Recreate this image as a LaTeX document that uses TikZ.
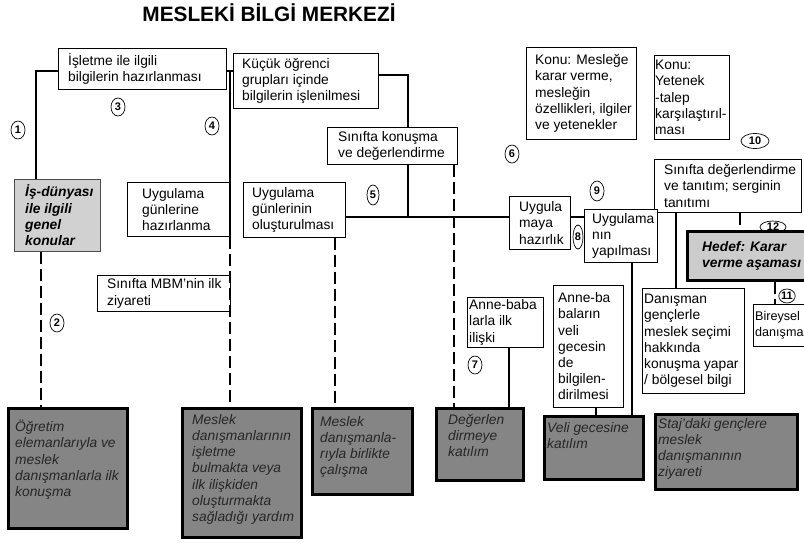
\documentclass[tikz,border=0pt]{standalone}
\usepackage{fontspec}
\setmainfont{Liberation Sans}
\usetikzlibrary{calc,shapes.geometric}
\newcommand\bxfont{\fontsize{13.8}{16.2}\selectfont}
\newcommand\mkcbox[8]{%
 \node[#1,minimum width=#5,minimum height=#6,anchor=north west] (#2) at (#3,#4) {};
 \node[#1t,anchor=west] (#2t) at ([xshift=#7]#2.west) {#8};}
\newcommand\mktbox[9]{%
 \node[#1,minimum width=#5,minimum height=#6,anchor=north west] (#2) at (#3,#4) {};
 \node[#1t,anchor=north west] (#2t) at ([xshift=#7,yshift=-#8]#2.north west) {#9};}
\tikzset{
 wbox/.style={draw, line width=0.9pt, fill=white, inner sep=0},
 wboxt/.style={inner sep=0, align=left, font=\bxfont},
 sbox/.style={wbox},
 sboxt/.style={inner sep=0, align=left, font=\fontsize{12.6}{16.2}\selectfont},
 gbox/.style={draw=black!70, line width=0.9pt, fill=black!18, inner sep=0},
 gboxt/.style={inner sep=0, align=left, font=\bxfont\bfseries\itshape},
 hbox/.style={draw, line width=2.6pt, fill=black!20, inner sep=0},
 hboxt/.style={inner sep=0, align=left, font=\bxfont\bfseries\itshape},
 dbox/.style={draw, line width=3.2pt, fill=black!48, inner sep=0},
 dboxt/.style={inner sep=0, align=left, font=\bxfont\itshape, text=black!85},
 conn/.style={line width=2.6pt},
 dconn/.style={line width=2.6pt, dash pattern=on 12pt off 5pt},
 num/.style={draw, ellipse, line width=0.7pt, inner sep=0, minimum width=14, minimum height=18, font=\fontsize{11}{11}\selectfont\bfseries}
}
\begin{document}
\begin{tikzpicture}[x=1pt,y=-1pt]
\useasboundingbox (0,0) rectangle (804,543);
\node[font=\fontsize{20.8}{20.8}\selectfont\bfseries, anchor=base] (title) at (269,22) {MESLEKİ BİLGİ MERKEZİ};
\node[num, minimum width=26, minimum height=12] (n12) at (773,227) {12};
% white boxes
\mkcbox{wbox}{A}{58}{48}{168}{41}{10}{İşletme ile ilgili\\bilgilerin hazırlanması}
\mkcbox{wbox}{B}{233}{53}{145}{55}{9}{Küçük öğrenci\\grupları içinde\\bilgilerin işlenilmesi}
\mkcbox{wbox}{C}{327}{127}{130}{37}{11}{Sınıfta konuşma\\ve değerlendirme}
\mkcbox{wbox}{D}{243}{182}{102}{55}{9}{Uygulama\\günlerinin\\oluşturulması}
\mkcbox{wbox}{E}{127}{182}{103}{54}{15}{Uygulama\\günlerine\\hazırlanma}
\mkcbox{wbox}{F}{97}{275}{133}{36}{10}{Sınıfta MBM'nin ilk\\ziyareti}
\mkcbox{gbox}{G}{14}{179}{86}{72}{11}{İş-dünyası\\ile ilgili\\genel\\konular}
\mkcbox{wbox}{K1}{526}{47}{110}{92}{9}{Konu: Mesleğe\\karar verme,\\mesleğin\\özellikleri, ilgiler\\ve yetenekler}
\mkcbox{wbox}{K2}{654}{55}{75}{84}{1}{Konu:\\Yetenek\\-talep\\karşılaştırıl-\\ması}
\mkcbox{wbox}{S}{654}{159}{147}{53}{10}{Sınıfta değerlendirme\\ve tanıtım; serginin\\tanıtımı}
\mkcbox{wbox}{UM}{509}{196}{61}{53}{10}{Uygula\\maya\\hazırlık}
\mkcbox{wbox}{UY}{584}{209}{73}{53}{8}{Uygulama\\nın\\yapılması}
\mkcbox{hbox}{HD}{686}{230}{126}{49}{16}{Hedef: Karar\\verme aşaması}
\mkcbox{sbox}{BI}{753}{304}{70}{42}{2}{Bireysel\\danışma}
\mkcbox{wbox}{AB1}{467}{297}{76}{50}{2}{Anne-baba\\larla ilk\\ilişki}
\mkcbox{wbox}{AB2}{553}{285}{70}{122}{5}{Anne-ba\\baların\\veli\\gecesin\\de\\bilgilen-\\dirilmesi}
\mkcbox{wbox}{DN}{642}{288}{102}{105}{2}{Danışman\\gençlerle\\meslek seçimi\\hakkında\\konuşma yapar\\/ bölgesel bilgi}
% dark boxes
\mktbox{dbox}{H}{7}{407}{119}{120}{8}{13}{Öğretim\\elemanlarıyla ve\\meslek\\danışmanlarla ilk\\konuşma}
\mktbox{dbox}{I}{181}{407}{119}{129}{11}{7}{Meslek\\danışmanlarının\\işletme\\bulmakta veya\\ilk ilişkiden\\oluşturmakta\\sağladığı yardım}
\mktbox{dbox}{J}{311}{407}{100}{86}{9}{9}{Meslek\\danışmanla-\\rıyla birlikte\\çalışma}
\mktbox{dbox}{DG}{435}{407}{87}{72}{13}{7}{Değerlen\\dirmeye\\katılım}
\mktbox{dbox}{VG}{543}{415}{99}{63}{4}{7}{Veli gecesine\\katılım}
\mktbox{dbox}{ST}{654}{413}{142}{75}{4}{5}{Staj'daki gençlere\\meslek\\danışmanının\\ziyareti}
% connectors
\coordinate (p1) at (36,71);
\draw[conn] (p1 -| A.west) -- (p1) -- (p1 |- G.north);
\coordinate (p1b) at (41,0);
\draw[dconn] (p1b |- G.south) -- (p1b |- H.north);
\coordinate (p2) at (230,71);
\draw[conn] (p2 -| A.east) -- (p2 -| B.west);
\draw[conn] (p2) -- (p2 |- E.south);
\draw[dconn] (p2 |- E.south) -- (p2 |- I.north);
\coordinate (p3) at (408,75);
\draw[conn] (p3 -| B.east) -- (p3) -- (p3 |- C.north);
\coordinate (p4) at (408,217);
\draw[conn] (p4 |- C.south) -- (p4);
\draw[conn] (p4 -| D.east) -- (p4 -| UM.west);
\draw[conn] (p4 -| UM.east) -- (p4 -| UY.west);
\coordinate (p5) at (454,0);
\draw[dconn] (p5 |- C.south) -- (p5 |- DG.north);
\coordinate (p6) at (335,0);
\draw[dconn] (p6 |- D.south) -- (p6 |- J.north);
\coordinate (p7) at (509,0);
\draw[conn] (p7 |- AB1.south) -- (p7 |- DG.north);
\coordinate (p8) at (596,0);
\draw[conn] (p8 |- AB2.south) -- (p8 |- VG.north);
\coordinate (p9) at (632,0);
\draw[conn] (p9 |- UY.south) -- (p9 |- VG.north);
\coordinate (p10) at (676,0);
\draw[conn] (p10 |- S.south) -- (p10 |- DN.north);
\coordinate (p11) at (740,0);
\draw[dconn] (p11 |- S.south) -- (p11 |- HD.north);
\coordinate (p12) at (775,0);
\draw[dconn] (p12 |- HD.south) -- (p12 |- BI.north);
% numbers
\node[num] (n1) at (18,130) {1};
\node[num] (n2) at (57,323) {2};
\node[num] (n3) at (118,107) {3};
\node[num] (n4) at (212,126) {4};
\node[num, minimum width=12, minimum height=20] (n5) at (373,195) {5};
\node[num] (n6) at (512,154) {6};
\node[num] (n7) at (475,365) {7};
\node[num, minimum width=10, minimum height=24] (n8) at (578,237) {8};
\node[num, minimum height=20] (n9) at (597,191) {9};
\node[num, minimum width=28, minimum height=15] (n10) at (755,141) {10};
\node[num, minimum width=16, minimum height=14] (n11) at (787,296) {11};
\end{tikzpicture}
\end{document}
